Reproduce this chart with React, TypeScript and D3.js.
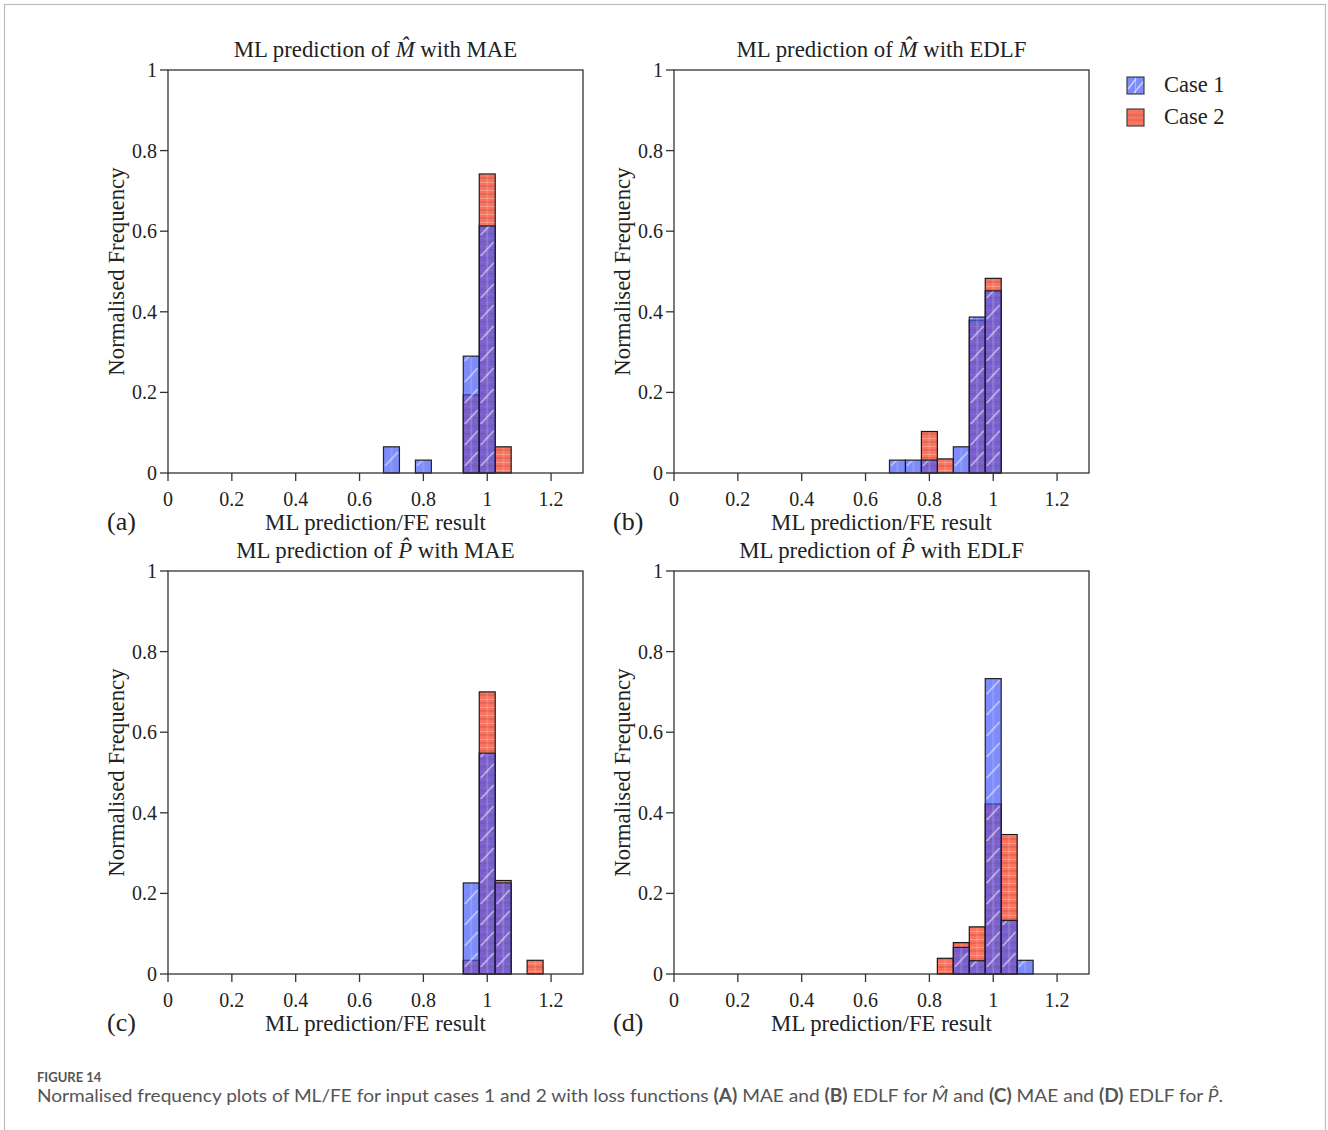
import React from "react";
import * as d3 from "d3";

type Bin = { x: number; v: number };

const panelTitles = ["ML prediction of ", "ML prediction of ", "ML prediction of ", "ML prediction of "];
const panelSymbols = ["M", "M", "P", "P"];
const panelLoss = [" with MAE", " with EDLF", " with MAE", " with EDLF"];
const panelLetters = ["(a)", "(b)", "(c)", "(d)"];
const seriesNames = ["Case 1", "Case 2"];
const xTicks = [0, 0.2, 0.4, 0.6, 0.8, 1, 1.2];
const yTicks = [0, 0.2, 0.4, 0.6, 0.8, 1];
const binWidth = 0.05;

const case1A: Bin[] = [
  { x: 0.7, v: 0.065 }, { x: 0.8, v: 0.032 }, { x: 0.95, v: 0.29 }, { x: 1.0, v: 0.613 },
];
const case2A: Bin[] = [
  { x: 0.95, v: 0.194 }, { x: 1.0, v: 0.742 }, { x: 1.05, v: 0.065 },
];
const case1B: Bin[] = [
  { x: 0.7, v: 0.032 }, { x: 0.75, v: 0.032 }, { x: 0.8, v: 0.032 }, { x: 0.9, v: 0.065 },
  { x: 0.95, v: 0.387 }, { x: 1.0, v: 0.452 },
];
const case2B: Bin[] = [
  { x: 0.8, v: 0.103 }, { x: 0.85, v: 0.035 }, { x: 0.95, v: 0.379 }, { x: 1.0, v: 0.483 },
];
const case1C: Bin[] = [
  { x: 0.95, v: 0.226 }, { x: 1.0, v: 0.548 }, { x: 1.05, v: 0.226 },
];
const case2C: Bin[] = [
  { x: 0.95, v: 0.034 }, { x: 1.0, v: 0.7 }, { x: 1.05, v: 0.232 }, { x: 1.15, v: 0.034 },
];
const case1D: Bin[] = [
  { x: 0.9, v: 0.066 }, { x: 0.95, v: 0.033 }, { x: 1.0, v: 0.733 }, { x: 1.05, v: 0.133 }, { x: 1.1, v: 0.034 },
];
const case2D: Bin[] = [
  { x: 0.85, v: 0.039 }, { x: 0.9, v: 0.078 }, { x: 0.95, v: 0.117 }, { x: 1.0, v: 0.422 }, { x: 1.05, v: 0.346 },
];

const case1Data = [case1A, case1B, case1C, case1D];
const case2Data = [case2A, case2B, case2C, case2D];

const W = 415;
const H = 403;
const panelOrigins = [
  [168, 70],
  [674, 70],
  [168, 571],
  [674, 571],
];

const serif = "'Liberation Serif', 'Times New Roman', serif";
const BLUE = "#4056f8";
const RED = "#fa735f";

const x = d3.scaleLinear().domain([0, 1.3]).range([0, W]);
const y = d3.scaleLinear().domain([0, 1]).range([H, 0]);
const bw = x(binWidth) - x(0);
const patX = x(binWidth / 2);

function Bars({ data, fill, opacity }: { data: Bin[]; fill: string; opacity: number }) {
  return (
    <g>
      {data.map((d, i) => (
        <rect
          key={i}
          x={x(d.x - binWidth / 2)}
          y={y(d.v)}
          width={bw}
          height={y(0) - y(d.v)}
          fill={fill}
          stroke="#1a1a1a"
          strokeWidth={1.2}
          strokeOpacity={opacity}
        />
      ))}
    </g>
  );
}

function Panel({ idx }: { idx: number }) {
  const [ox, oy] = panelOrigins[idx];
  return (
    <g transform={`translate(${ox},${oy})`}>
      <Bars data={case2Data[idx]} fill="url(#hatchRed)" opacity={1} />
      <Bars data={case1Data[idx]} fill="url(#hatchBlue)" opacity={0.95} />
      <rect x={0} y={0} width={W} height={H} fill="none" stroke="#333" strokeWidth={1.3} />
      {xTicks.map((t) => (
        <g key={t} transform={`translate(${x(t)},${H})`}>
          <line y1={0} y2={8} stroke="#333" strokeWidth={1.3} />
          <text y={33} textAnchor="middle" fontSize={20} fontFamily={serif} fill="#222">
            {String(t)}
          </text>
        </g>
      ))}
      {yTicks.map((t) => (
        <g key={t} transform={`translate(0,${y(t)})`}>
          <line x1={0} x2={-8} stroke="#333" strokeWidth={1.3} />
          <text x={-11} dy="0.35em" textAnchor="end" fontSize={20} fontFamily={serif} fill="#222">
            {String(t)}
          </text>
        </g>
      ))}
      <text x={W / 2} y={-13} textAnchor="middle" fontSize={22.8} fontFamily={serif} fill="#222">
        {panelTitles[idx]}
        <tspan fontStyle="italic">{panelSymbols[idx] + "\u0302"}</tspan>
        {panelLoss[idx]}
      </text>
      <text x={W / 2} y={H + 57} textAnchor="middle" fontSize={22.8} fontFamily={serif} fill="#222">
        ML prediction/FE result
      </text>
      <text x={-61} y={H + 57} fontSize={26} fontFamily={serif} fill="#222">
        {panelLetters[idx]}
      </text>
      <text
        transform={`translate(-44,${H / 2}) rotate(-90)`}
        textAnchor="middle"
        fontSize={22.8}
        fontFamily={serif}
        fill="#222"
      >
        Normalised Frequency
      </text>
    </g>
  );
}

export default function App() {
  return (
    <div style={{ position: "absolute", left: 0, top: 0 }}>
      <svg width={1328} height={1130} style={{ display: "block", background: "#fff" }}>
        <defs>
          <pattern id="hatchBlue" patternUnits="userSpaceOnUse" x={patX} y={0} width={bw} height={21}>
            <rect width={bw} height={21} fill={BLUE} fillOpacity={0.68} />
            <line x1={bw / 2} y1={0} x2={bw / 2} y2={21} stroke="#fff" strokeOpacity={0.25} strokeWidth={1} />
            <line x1={1.5} y1={18} x2={bw - 1.5} y2={4} stroke="#fff" strokeOpacity={0.55} strokeWidth={1.6} />
          </pattern>
          <pattern id="hatchRed" patternUnits="userSpaceOnUse" x={patX} y={0} width={bw} height={8}>
            <rect width={bw} height={8} fill={RED} />
            <line x1={0} y1={4} x2={bw} y2={4} stroke="#a04a40" strokeOpacity={0.35} strokeWidth={1.5} />
            <line x1={0} y1={0.5} x2={bw} y2={0.5} stroke="#fff" strokeOpacity={0.25} strokeWidth={1} />
            <line x1={bw / 2} y1={0} x2={bw / 2} y2={8} stroke="#fff" strokeOpacity={0.25} strokeWidth={1} />
          </pattern>
          <pattern id="legBlue" patternUnits="userSpaceOnUse" x={1127} y={77} width={17} height={17}>
            <rect width={17} height={17} fill={BLUE} fillOpacity={0.68} />
            <line x1={8.5} y1={0} x2={8.5} y2={17} stroke="#fff" strokeOpacity={0.35} strokeWidth={1} />
            <line x1={1} y1={12} x2={9} y2={2} stroke="#fff" strokeOpacity={0.6} strokeWidth={1.4} />
            <line x1={7} y1={16} x2={16} y2={5} stroke="#fff" strokeOpacity={0.6} strokeWidth={1.4} />
          </pattern>
          <pattern id="legRed" patternUnits="userSpaceOnUse" x={1127} y={109} width={17} height={17}>
            <rect width={17} height={17} fill={RED} />
            <line x1={0} y1={6} x2={17} y2={6} stroke="#a04a40" strokeOpacity={0.45} strokeWidth={1} />
            <line x1={0} y1={11} x2={17} y2={11} stroke="#a04a40" strokeOpacity={0.45} strokeWidth={1} />
          </pattern>
        </defs>
        <rect x={4.5} y={4.5} width={1321} height={1140} fill="none" stroke="#bdbdbd" strokeWidth={1.2} />
        {[0, 1, 2, 3].map((i) => (
          <Panel key={i} idx={i} />
        ))}
        <g>
          <rect x={1127} y={77} width={17} height={17} fill="url(#legBlue)" stroke="#333" strokeWidth={1.1} />
          <text x={1164} y={92} fontSize={22.5} fontFamily={serif} fill="#222">
            {seriesNames[0]}
          </text>
          <rect x={1127} y={109} width={17} height={17} fill="url(#legRed)" stroke="#333" strokeWidth={1.1} />
          <text x={1164} y={124} fontSize={22.5} fontFamily={serif} fill="#222">
            {seriesNames[1]}
          </text>
        </g>
        <text x={37} y={1082} fontSize={13} fontWeight="bold" fontFamily="Lato, 'Open Sans', sans-serif" fill="#555">
          FIGURE 14
        </text>
        <text
          x={37}
          y={1102}
          fontSize={18}
          fontFamily="Lato, 'Open Sans', sans-serif"
          fill="#555"
          textLength={1186}
          lengthAdjust="spacingAndGlyphs"
        >
          Normalised frequency plots of ML/FE for input cases 1 and 2 with loss functions{" "}
          <tspan fontWeight="bold">(A)</tspan> MAE and <tspan fontWeight="bold">(B)</tspan> EDLF for{" "}
          <tspan fontStyle="italic">{"M\u0302"}</tspan> and <tspan fontWeight="bold">(C)</tspan> MAE and{" "}
          <tspan fontWeight="bold">(D)</tspan> EDLF for <tspan fontStyle="italic">{"P\u0302"}</tspan>.
        </text>
      </svg>
    </div>
  );
}
